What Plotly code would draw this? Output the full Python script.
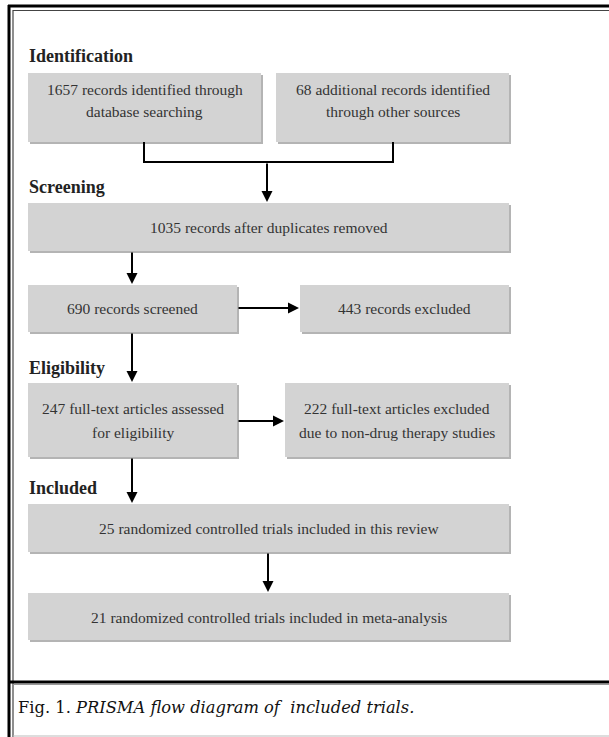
import plotly.graph_objects as go

# ---- data (flow diagram content) ----
stages = ["Identification", "Screening", "Eligibility", "Included"]
counts = [1657, 68, 1035, 690, 443, 247, 222, 25, 21]
box_texts = [
    ["1657 records identified through", "database searching"],
    ["68 additional records identified", "through other sources"],
    ["1035 records after duplicates removed"],
    ["690 records screened"],
    ["443 records excluded"],
    ["247 full-text articles assessed", "for eligibility"],
    ["222 full-text articles excluded", "due to non-drug therapy studies"],
    ["25 randomized controlled trials included in this review"],
    ["21 randomized controlled trials included in meta-analysis"],
]
caption_plain = "Fig. 1. "
caption_italic = "PRISMA flow diagram of  included trials."

# ---- layout geometry (pixels) ----
W, H = 609, 737
boxes = [  # x0, y0, x1, y1, text line y positions
    (28, 73, 261, 142, [89, 111]),
    (276, 73, 509, 142, [89, 111]),
    (28, 203, 509, 251, [227]),
    (28, 285, 237, 332, [308]),
    (300, 285, 509, 332, [308]),
    (28, 383, 237, 457, [408, 432]),
    (285, 383, 509, 457, [408, 432]),
    (28, 504, 509, 552, [528]),
    (28, 593, 509, 640, [617]),
]
stage_y = [56, 187, 368, 488]
arrows = [  # (x_tail, y_tail, x_head, y_head)
    (267, 162, 267, 202),
    (132, 251, 132, 284),
    (237, 308, 299, 308),
    (132, 332, 132, 382),
    (237, 421, 284, 421),
    (132, 457, 132, 503),
    (268, 552, 268, 592),
]

FONT = "Liberation Serif"
fill = "#d3d3d3"
shadow = "#b4b4b4"
txtcol = "#333333"

fig = go.Figure()
shapes = []
annotations = []

# outer frame
shapes += [
    dict(type="line", x0=8, y0=6, x1=W, y1=6, line=dict(color="black", width=3)),
    dict(type="line", x0=9, y0=5, x1=9, y1=H, line=dict(color="black", width=3)),
    dict(type="line", x0=13, y0=10.5, x1=W, y1=10.5, line=dict(color="#444", width=1.2)),
    dict(type="line", x0=13, y0=10, x1=13, y1=H, line=dict(color="#444", width=1.2)),
    dict(type="line", x0=8, y0=682, x1=W, y1=682, line=dict(color="black", width=3)),
    dict(type="line", x0=13, y0=684.5, x1=W, y1=684.5, line=dict(color="#999", width=1)),
    dict(type="line", x0=13, y0=736, x1=W, y1=736, line=dict(color="#bbb", width=1)),
]

# boxes with shadow
for (x0, y0, x1, y1, ys), lines in zip(boxes, box_texts):
    shapes.append(dict(type="rect", x0=x0 + 2, y0=y0 + 2, x1=x1 + 2, y1=y1 + 2,
                       fillcolor=shadow, line=dict(width=0), layer="below"))
    shapes.append(dict(type="rect", x0=x0, y0=y0, x1=x1, y1=y1,
                       fillcolor=fill, line=dict(width=0), layer="below"))
    for ty, t in zip(ys, lines):
        annotations.append(dict(x=(x0 + x1) / 2, y=ty, text=t, showarrow=False,
                                xanchor="center", yanchor="middle",
                                font=dict(family=FONT, size=15.5, color=txtcol)))

# bracket connector from two identification boxes
shapes.append(dict(type="path", path="M 144 142 L 144 162 L 393 162 L 393 142",
                   line=dict(color="black", width=2)))

# arrows
for xt, yt, xh, yh in arrows:
    annotations.append(dict(x=xh, y=yh, ax=xt, ay=yt, xref="x", yref="y",
                            axref="x", ayref="y", text="", showarrow=True,
                            arrowhead=2, arrowsize=1.1, arrowwidth=2,
                            arrowcolor="black", standoff=0, startstandoff=0))

# stage labels
for s, sy in zip(stages, stage_y):
    annotations.append(dict(x=27, y=sy, text="<b>" + s + "</b>", showarrow=False,
                            xanchor="left", yanchor="middle",
                            font=dict(family=FONT, size=18, color="#222")))

# caption
annotations.append(dict(x=16, y=707, text=caption_plain + "<i>" + caption_italic + "</i>",
                        showarrow=False, xanchor="left", yanchor="middle",
                        font=dict(family="DejaVu Serif", size=16.3, color="#111")))

fig.update_layout(
    width=W, height=H,
    margin=dict(l=0, r=0, t=0, b=0),
    paper_bgcolor="white", plot_bgcolor="white",
    xaxis=dict(range=[0, W], visible=False, fixedrange=True),
    yaxis=dict(range=[H, 0], visible=False, fixedrange=True),
    shapes=shapes, annotations=annotations, showlegend=False,
)
fig.write_html("out.html", config={"displayModeBar": False},
               post_script="document.body.style.margin='0px';")
